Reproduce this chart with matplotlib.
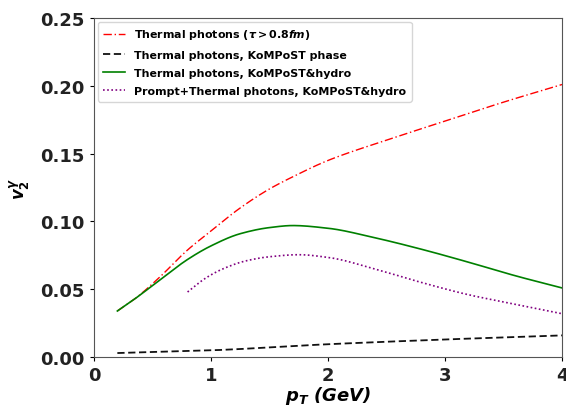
import numpy as np
import matplotlib
matplotlib.use('Agg')
import matplotlib.pyplot as plt

plt.rcParams['mathtext.fontset'] = 'custom'
plt.rcParams['mathtext.it'] = 'DejaVu Sans:bold:italic'
plt.rcParams['mathtext.rm'] = 'DejaVu Sans:bold'
plt.rcParams['mathtext.bf'] = 'DejaVu Sans:bold'

# values
pt_red = [0.2, 0.35, 0.55, 0.8, 1.0, 1.25, 1.5, 1.7, 2.0, 2.5, 3.0, 3.5, 4.0]
v2_red = [0.034, 0.043, 0.058, 0.079, 0.093, 0.110, 0.124, 0.133, 0.145, 0.160, 0.174, 0.188, 0.201]

pt_blk = [0.2, 1.0, 2.0, 3.0, 4.0]
v2_blk = [0.003, 0.005, 0.0095, 0.013, 0.016]

pt_grn = [0.2, 0.35, 0.55, 0.8, 1.0, 1.25, 1.5, 1.7, 2.0, 2.4, 2.8, 3.2, 3.6, 4.0]
v2_grn = [0.034, 0.043, 0.056, 0.072, 0.082, 0.091, 0.0955, 0.097, 0.095, 0.088, 0.0795, 0.070, 0.060, 0.051]

pt_prp = [0.8, 0.95, 1.1, 1.3, 1.5, 1.75, 2.0, 2.4, 2.8, 3.2, 3.6, 4.0]
v2_prp = [0.048, 0.058, 0.065, 0.071, 0.074, 0.0755, 0.0735, 0.065, 0.055, 0.046, 0.039, 0.032]

labels = [r'Thermal photons ($\tau>0.8fm$)',
          'Thermal photons, KoMPoST phase',
          'Thermal photons, KoMPoST&hydro',
          'Prompt+Thermal photons, KoMPoST&hydro']


def pchip(x, y, n=300):
    # monotone cubic through the read points
    x = np.asarray(x, float)
    y = np.asarray(y, float)
    h = np.diff(x)
    d = np.diff(y) / h
    m = np.zeros_like(y)
    for i in range(1, len(x) - 1):
        if d[i - 1] * d[i] > 0:
            w1 = 2 * h[i] + h[i - 1]
            w2 = h[i] + 2 * h[i - 1]
            m[i] = (w1 + w2) / (w1 / d[i - 1] + w2 / d[i])
    m[0] = d[0]
    m[-1] = d[-1]
    xs = np.linspace(x[0], x[-1], n)
    idx = np.clip(np.searchsorted(x, xs) - 1, 0, len(x) - 2)
    t = (xs - x[idx]) / h[idx]
    h00 = 2 * t**3 - 3 * t**2 + 1
    h10 = t**3 - 2 * t**2 + t
    h01 = -2 * t**3 + 3 * t**2
    h11 = t**3 - t**2
    ys = h00 * y[idx] + h10 * h[idx] * m[idx] + h01 * y[idx + 1] + h11 * h[idx] * m[idx + 1]
    return xs, ys


fig = plt.figure(figsize=(5.66, 4.14), dpi=100)
ax = fig.add_axes([0.166, 0.135, 0.827, 0.819])

ax.plot(*pchip(pt_red, v2_red), color='red', ls=(0, (6, 2, 1, 2)), lw=1.0, label=labels[0])
ax.plot(*pchip(pt_blk, v2_blk), color='#111111', ls=(0, (4, 2)), lw=1.3, label=labels[1])
ax.plot(*pchip(pt_grn, v2_grn), color='green', ls='-', lw=1.2, label=labels[2])
ax.plot(*pchip(pt_prp, v2_prp), color='purple', ls=(0, (1, 1.5)), lw=1.2, label=labels[3])

ax.set_xlim(0, 4)
ax.set_ylim(0, 0.25)
ax.set_xticks([0, 1, 2, 3, 4])
ax.set_yticks([0, 0.05, 0.10, 0.15, 0.20, 0.25])
ax.set_yticklabels(['0.00', '0.05', '0.10', '0.15', '0.20', '0.25'])
for t in ax.get_xticklabels() + ax.get_yticklabels():
    t.set_fontsize(13)
    t.set_fontweight('bold')
    t.set_color('#222222')
ax.tick_params(length=3, width=0.8)
for s in ax.spines.values():
    s.set_color('#555555')

ax.set_xlabel(r'$p_T$ (GeV)', fontsize=13, fontweight='bold', fontstyle='italic', labelpad=0)
ax.set_ylabel(r'$v_2^{\gamma}$', fontsize=12, labelpad=6)
ax.legend(loc='upper left', frameon=True, handlelength=2.0,
          borderaxespad=0.35, labelspacing=0.75, borderpad=0.5,
          prop={'weight': 'bold', 'size': 7.9})

fig.savefig('out.png', dpi=100)
